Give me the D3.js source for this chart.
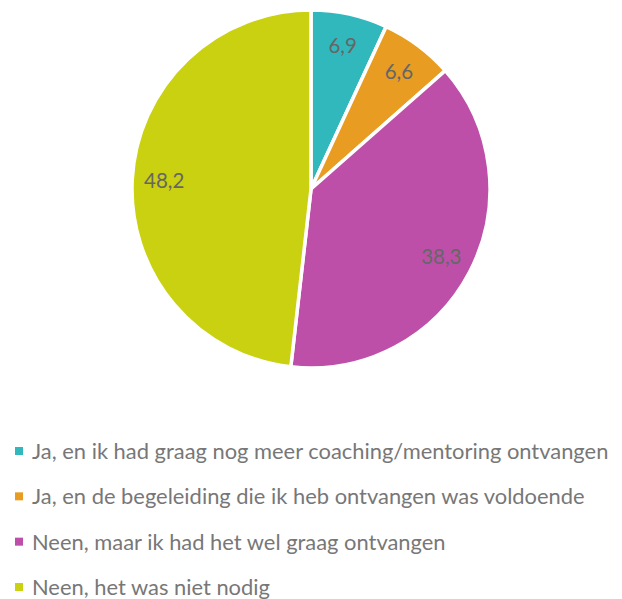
<!DOCTYPE html>
<html><head><meta charset="utf-8">
<script src="https://cdn.jsdelivr.net/npm/d3@7"></script>
<style>body{margin:0;background:#fff}</style>
</head><body>
<svg id="c" width="622" height="599"></svg>
<script>
const categories = [
  "Ja, en ik had graag nog meer coaching/mentoring ontvangen",
  "Ja, en de begeleiding die ik heb ontvangen was voldoende",
  "Neen, maar ik had het wel graag ontvangen",
  "Neen, het was niet nodig"
];
const values = [6.9, 6.6, 38.3, 48.2];
const labels = ["6,9", "6,6", "38,3", "48,2"];
const colors = ["#31B8BC", "#E89C22", "#BE4FA8", "#C9D110"];

const svg = d3.select("#c");
const cx = 311, cy = 189, r = 179;
const pie = d3.pie().sort(null).value(d => d)(values);
const arc = d3.arc().innerRadius(0).outerRadius(r);
const labelArc = d3.arc().innerRadius(147).outerRadius(147);
const g = svg.append("g").attr("transform", `translate(${cx},${cy})`);
g.selectAll("path").data(pie).join("path")
  .attr("d", arc).attr("fill", (d, i) => colors[i])
  .attr("stroke", "#fff").attr("stroke-width", 3.5).attr("stroke-linejoin", "round");
g.selectAll("text").data(pie).join("text")
  .attr("transform", d => `translate(${labelArc.centroid(d)})`)
  .attr("text-anchor", "middle").attr("dy", "0.36em")
  .attr("font-family", "Lato, 'Open Sans', sans-serif").attr("font-size", 20.5)
  .attr("fill", "#666666")
  .text((d, i) => labels[i]);

const leg = svg.append("g");
const y = d3.scalePoint().domain(categories).range([451, 587]);
categories.forEach((c, i) => {
  leg.append("rect").attr("x", 15).attr("y", y(c) - 4).attr("width", 8).attr("height", 8).attr("fill", colors[i]);
  leg.append("text").attr("x", 32).attr("y", y(c)).attr("dy", "0.36em")
    .attr("font-family", "Lato, 'Open Sans', sans-serif").attr("font-size", 21.9)
    .attr("fill", "#777777").text(c);
});
</script>
</body></html>
